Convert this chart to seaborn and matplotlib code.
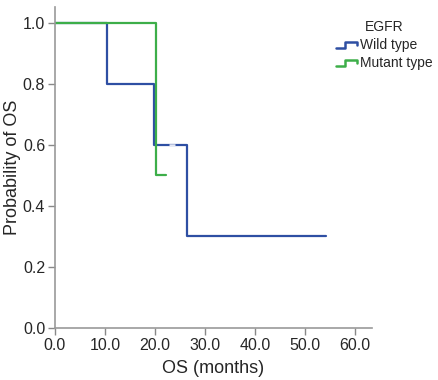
import pandas as pd
import matplotlib
matplotlib.use("Agg")
import matplotlib.pyplot as plt
import seaborn as sns
from matplotlib.legend_handler import HandlerBase
from matplotlib.lines import Line2D

# Kaplan-Meier step points (time in months, survival probability)
wild_time = [0.0, 10.4, 19.8, 26.5, 54.2]
wild_surv = [1.0, 0.8, 0.6, 0.3, 0.3]
mutant_time = [0.0, 20.3, 22.3]
mutant_surv = [1.0, 0.5, 0.5]
wild_censor_time = [23.4]
wild_censor_surv = [0.6]

groups = ["Wild type", "Mutant type"]
colors = {"Wild type": "#2E4FA3", "Mutant type": "#3DAE49"}
x_ticks = [0, 10, 20, 30, 40, 50, 60]
y_ticks = [0.0, 0.2, 0.4, 0.6, 0.8, 1.0]

df = pd.concat([
    pd.DataFrame({"time": wild_time, "surv": wild_surv, "EGFR": "Wild type"}),
    pd.DataFrame({"time": mutant_time, "surv": mutant_surv, "EGFR": "Mutant type"}),
], ignore_index=True)

sns.set_style("white")
plt.rcParams["font.family"] = ["Liberation Sans", "DejaVu Sans"]

fig = plt.figure(figsize=(4.39, 3.80), dpi=100)
ax = fig.add_axes([0.125, 0.137, 0.722, 0.845])

sns.lineplot(data=df, x="time", y="surv", hue="EGFR", hue_order=groups,
             palette=colors, drawstyle="steps-post", estimator=None,
             linewidth=1.6, ax=ax, legend=False)

# censored observation shown as a small light gap
ax.plot([wild_censor_time[0] - 0.6, wild_censor_time[0] + 0.6],
        [wild_censor_surv[0]] * 2, color="#e4e8f4", lw=1.8, solid_capstyle="butt")

ax.set_xlim(0, 63.4)
ax.set_ylim(0, 1.052)
ax.set_xticks(x_ticks)
ax.set_xticklabels([f"{v:.1f}" for v in x_ticks])
ax.set_yticks(y_ticks)
ax.set_yticklabels([f"{v:.1f}" for v in y_ticks])
ax.tick_params(axis="both", labelsize=11.5, length=5, width=1, color="#888888",
               direction="out", pad=2, bottom=True, left=True)
for side in ["top", "right"]:
    ax.spines[side].set_visible(False)
for side in ["left", "bottom"]:
    ax.spines[side].set_color("#999999")
    ax.spines[side].set_linewidth(1.2)
ax.set_xlabel("OS (months)", fontsize=13, labelpad=5)
ax.set_ylabel("Probability of OS", fontsize=13)
ax.yaxis.set_label_coords(-0.107, 0.5)


class StepHandler(HandlerBase):
    def create_artists(self, legend, orig_handle, xdescent, ydescent,
                       width, height, fontsize, trans):
        x0 = -xdescent
        y0 = -ydescent
        xs = [x0, x0 + width * 0.45, x0 + width * 0.45, x0 + width, x0 + width]
        ys = [y0 + height * 0.15, y0 + height * 0.15, y0 + height * 0.75,
              y0 + height * 0.75, y0 + height * 0.4]
        line = Line2D(xs, ys, color=orig_handle.get_color(), lw=1.8)
        line.set_transform(trans)
        return [line]


handles = [Line2D([], [], color=colors[g]) for g in groups]
leg = fig.legend(handles, groups, title="EGFR", loc="upper left",
                 bbox_to_anchor=(0.753, 0.962), frameon=False, fontsize=10,
                 title_fontsize=10, handlelength=1.5, handletextpad=0.2,
                 labelspacing=0.3, borderaxespad=0,
                 handler_map={Line2D: StepHandler()})

fig.savefig("out.png", dpi=100)
